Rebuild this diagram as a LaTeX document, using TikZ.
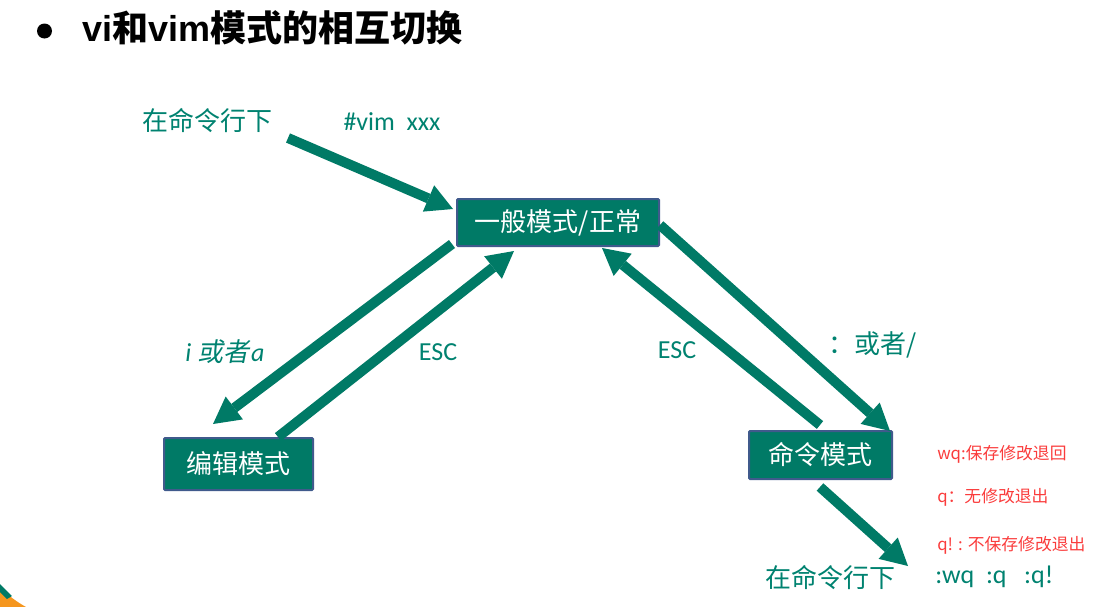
\documentclass[tikz,border=0pt]{standalone}
\usepackage{fontspec}
\setmainfont{Carlito}
\setsansfont{Liberation Sans}
\newfontfamily\cjk{Noto Sans CJK SC}
\newfontfamily\cjkit{Noto Sans CJK SC}[FakeSlant=0.2]
\usetikzlibrary{arrows.meta}
\definecolor{vteal}{RGB}{0,122,102}
\definecolor{vtext}{RGB}{0,130,112}
\definecolor{vborder}{RGB}{64,90,140}
\definecolor{vred}{RGB}{250,60,60}
\definecolor{vorange}{RGB}{245,150,30}
\tikzset{
  modebox/.style={draw=vborder, line width=1.5pt, fill=vteal, text=white, inner sep=0pt,
    rounded corners=0.75pt, font=\cjk\fontsize{19.5pt}{22pt}\selectfont},
  bigarrow/.style={draw=vteal, line width=7.5pt,
    -{Triangle[width=21.5pt,length=20pt,line width=0pt]}},
  lbl/.style={text=vtext, inner sep=0pt, font=\fontsize{19.5pt}{22pt}\selectfont},
  cjklbl/.style={text=vtext, inner sep=0pt, font=\cjk\fontsize{19.5pt}{22pt}\selectfont},
  redlbl/.style={text=vred, inner sep=0pt, anchor=west, font=\cjk\fontsize{12.6pt}{15pt}\selectfont},
}
\begin{document}
\begin{tikzpicture}[x=0.75pt,y=-0.75pt]
\useasboundingbox (0,0) rectangle (1111,607);
% corner decoration
\fill[vorange] (0,588) .. controls (9,596) and (17,602) .. (26,607) -- (0,607) -- cycle;
\fill[vteal] (0,584) .. controls (4,588) and (8,592) .. (12,596) -- (7,599) .. controls (4,596) and (2,594) .. (0,592) -- cycle;
% title
\fill[black] (44.5,31) circle (7.5);
\node[anchor=west, inner sep=0pt] (title) at (82,28)
  {\fontsize{27pt}{30pt}\selectfont\sffamily\bfseries vi{\cjk\bfseries 和}vim{\cjk\bfseries 模式的相互切换}};
% mode boxes
\node[modebox, minimum width=151.5pt, minimum height=35.25pt] (normal) at (558,222.5) {一般模式/正常};
\node[modebox, minimum width=111.75pt, minimum height=39pt] (edit) at (238.5,464) {编辑模式};
\node[modebox, minimum width=107.25pt, minimum height=36pt] (cmdm) at (820.5,455) {命令模式};
% labels
\node[cjklbl] (cl1) at (207,121) {在命令行下};
\node[lbl] (vimx) at (392,122) {\#vim\ \ xxx};
\node[lbl] (ia) at (225,352) {\itshape i {\cjkit 或者}\hspace{1.5pt}a};
\node[lbl] (esc1) at (438,352) {ESC};
\node[lbl] (esc2) at (677,350) {ESC};
\node[cjklbl] (colon) at (873,345) {：或者/};
\node[redlbl] (r1) at (937,454) {wq:保存修改退回};
\node[redlbl] (r2) at (937,497) {q：无修改退出};
\node[redlbl] (r3) at (937,545) {q! : 不保存修改退出};
\node[lbl, anchor=west] (quit) at (935,577) {:wq\ \ :q\ \ \ :q!};
\node[cjklbl] (cl2) at (830,578) {在命令行下};
% arrow end points
\coordinate (a1s) at (288,138); \coordinate (a1e) at (453,209);
\coordinate (a2s) at (452,244); \coordinate (a2e) at (213,424);
\coordinate (a3s) at (278,437); \coordinate (a3e) at (514,251);
\coordinate (a4s) at (820,425); \coordinate (a4e) at (602,248);
\coordinate (a5s) at (660,225); \coordinate (a5e) at (890,431);
\coordinate (a6s) at (820,487); \coordinate (a6e) at (908,566);
% arrows
\draw[bigarrow] (a1s) -- (a1e);
\draw[bigarrow] (a2s) -- (a2e);
\draw[bigarrow] (a3s) -- (a3e);
\draw[bigarrow] (a4s) -- (a4e);
\draw[bigarrow] (a5s) -- (a5e);
\draw[bigarrow] (a6s) -- (a6e);
\end{tikzpicture}
\end{document}
